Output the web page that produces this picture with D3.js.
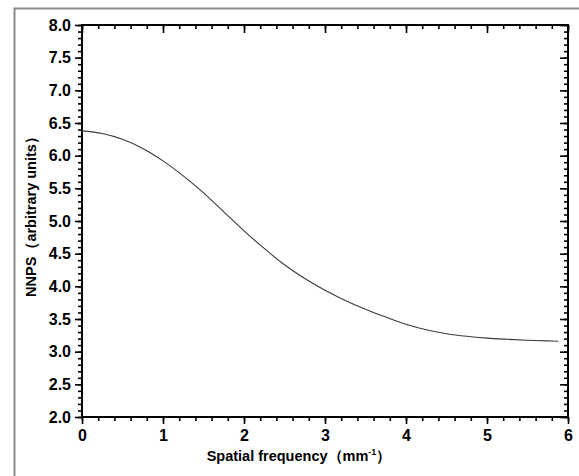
<!DOCTYPE html>
<html>
<head>
<meta charset="utf-8">
<script src="https://cdnjs.cloudflare.com/ajax/libs/d3/7.8.5/d3.min.js"></script>
<style>
  html, body { margin: 0; padding: 0; background: #fff; }
  svg { display: block; }
</style>
</head>
<body>
<div id="chart"></div>
<script>
// ── Data ─────────────────────────────────────
const freq = [0, 0.25, 0.5, 0.75, 1.0, 1.25, 1.5, 1.75, 2.0, 2.25, 2.5, 2.75, 3.0,
              3.25, 3.5, 3.75, 4.0, 4.25, 4.5, 4.75, 5.0, 5.25, 5.5, 5.75, 5.88];
const nnps = [6.38, 6.34, 6.25, 6.11, 5.92, 5.69, 5.43, 5.14, 4.85, 4.58, 4.33, 4.12, 3.94,
              3.785, 3.65, 3.53, 3.42, 3.335, 3.275, 3.235, 3.208, 3.19, 3.175, 3.165, 3.16];
const xTicks = [0, 1, 2, 3, 4, 5, 6];
const yTicks = [2.0, 2.5, 3.0, 3.5, 4.0, 4.5, 5.0, 5.5, 6.0, 6.5, 7.0, 7.5, 8.0];

const W = 579, H = 476;
const m = { left: 82, right: 11, top: 25, bottom: 59 };
const font = "'Liberation Sans', Arial, sans-serif";

const svg = d3.select("#chart").append("svg")
  .attr("width", W).attr("height", H);

// outer frame (partial, as in the picture)
svg.append("path")
  .attr("d", `M14.5,${H} V8.5 H${W}`)
  .attr("fill", "none")
  .attr("stroke", "#8a8a8a")
  .attr("stroke-width", 2);

const x = d3.scaleLinear().domain([0, 6]).range([m.left, W - m.right]);
const y = d3.scaleLinear().domain([2, 8]).range([H - m.bottom, m.top]);

const x0 = x.range()[0], x1 = x.range()[1];
const y0 = y.range()[0], y1 = y.range()[1];

const xMinor = d3.range(0, 6.001, 0.2).map(v => +v.toFixed(1));
const yMinor = d3.range(2, 8.001, 0.1).map(v => +v.toFixed(1));

// ── Axes ─────────────────────────────────────
function styleAxis(g) {
  g.select(".domain").remove();
  g.selectAll(".tick line").attr("stroke", "#000").attr("stroke-width", 1.6);
  g.selectAll(".tick text")
    .attr("fill", "#000")
    .attr("font-size", "16px")
    .attr("font-weight", "bold")
    .attr("font-family", font);
}

// bottom minor + major (outward)
svg.append("g").attr("transform", `translate(0,${y0})`)
  .call(d3.axisBottom(x).tickValues(xMinor).tickSize(4).tickFormat(""))
  .call(styleAxis);
svg.append("g").attr("transform", `translate(0,${y0})`)
  .call(d3.axisBottom(x).tickValues(xTicks).tickSize(7).tickPadding(6).tickFormat(d3.format("d")))
  .call(styleAxis);

// top mirror (inward)
svg.append("g").attr("transform", `translate(0,${y1})`)
  .call(d3.axisBottom(x).tickValues(xMinor).tickSize(4).tickFormat(""))
  .call(styleAxis);
svg.append("g").attr("transform", `translate(0,${y1})`)
  .call(d3.axisBottom(x).tickValues(xTicks).tickSize(8).tickFormat(""))
  .call(styleAxis);

// left minor + major (outward)
svg.append("g").attr("transform", `translate(${x0},0)`)
  .call(d3.axisLeft(y).tickValues(yMinor).tickSize(4).tickFormat(""))
  .call(styleAxis);
svg.append("g").attr("transform", `translate(${x0},0)`)
  .call(d3.axisLeft(y).tickValues(yTicks).tickSize(7).tickPadding(4).tickFormat(d3.format(".1f")))
  .call(styleAxis);

// right mirror (inward)
svg.append("g").attr("transform", `translate(${x1},0)`)
  .call(d3.axisLeft(y).tickValues(yMinor).tickSize(4).tickFormat(""))
  .call(styleAxis);
svg.append("g").attr("transform", `translate(${x1},0)`)
  .call(d3.axisLeft(y).tickValues(yTicks).tickSize(8).tickFormat(""))
  .call(styleAxis);

// plot box
svg.append("rect")
  .attr("x", x0).attr("y", y1)
  .attr("width", x1 - x0).attr("height", y0 - y1)
  .attr("fill", "none")
  .attr("stroke", "#000")
  .attr("stroke-width", 2);

// ── Curve ────────────────────────────────────
const line = d3.line()
  .x((d, i) => x(freq[i]))
  .y(d => y(d))
  .curve(d3.curveCatmullRom.alpha(0.5));

svg.append("path")
  .datum(nnps)
  .attr("d", line)
  .attr("fill", "none")
  .attr("stroke", "#3a3a3a")
  .attr("stroke-width", 1.1);

// ── Axis titles ──────────────────────────────
const xt = svg.append("text")
  .attr("x", 299).attr("y", 461)
  .attr("text-anchor", "middle")
  .attr("font-size", "14.5px")
  .attr("font-weight", "bold")
  .attr("font-family", font)
  .attr("fill", "#000");
xt.append("tspan").text("Spatial frequency（mm");
xt.append("tspan").attr("dy", -6).attr("font-size", "9px").text("-1");
xt.append("tspan").attr("dy", 6).text("）");

svg.append("text")
  .attr("transform", "translate(36,213) rotate(-90)")
  .attr("text-anchor", "middle")
  .attr("font-size", "14.5px")
  .attr("font-weight", "bold")
  .attr("font-family", font)
  .attr("fill", "#000")
  .text("NNPS（arbitrary units）");
</script>
</body>
</html>
